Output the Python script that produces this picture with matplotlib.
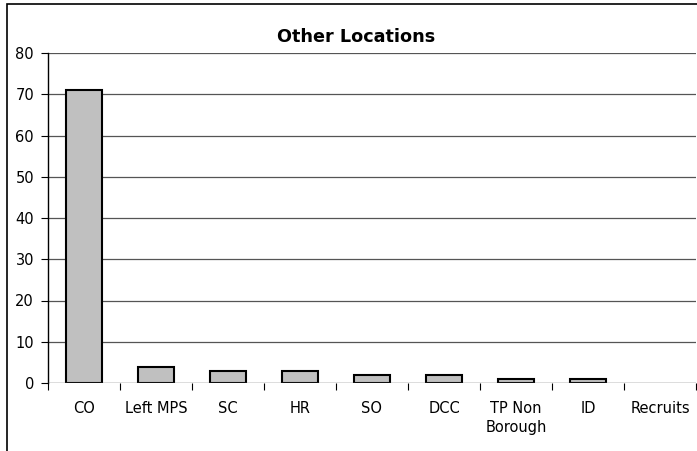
import numpy as np
import matplotlib.pyplot as plt
from matplotlib.patches import Rectangle

# values
locations = ["CO", "Left MPS", "SC", "HR", "SO", "DCC", "TP Non\nBorough", "ID", "Recruits"]
counts = [71, 4, 3, 3, 2, 2, 1, 1, 0]
y_ticks = [0, 10, 20, 30, 40, 50, 60, 70, 80]

plt.rcParams['font.family'] = ['DejaVu Sans']

fig = plt.figure(figsize=(6.97, 4.51), dpi=100)
ax = fig.add_axes([48/697, 1-383/451, 648/697, 330/451])

# outer chart border (right/bottom edges fall outside the picture)
fig.patches.append(Rectangle((7/697, -0.1), 1.2, 1-4/451+0.1, transform=fig.transFigure,
                             fill=False, edgecolor='black', linewidth=1.2))

x = np.arange(len(locations))
edge_w = [1.5 if c > 0 else 0 for c in counts]
ax.bar(x, counts, width=0.5, color='#C0C0C0', edgecolor='black', linewidth=edge_w, zorder=3)

ax.set_xlim(-0.5, len(locations) - 0.5)
ax.set_ylim(0, 80)
ax.set_yticks(y_ticks)
ax.set_yticklabels([str(v) for v in y_ticks], fontsize=10.5)
for v in y_ticks[1:]:
    ax.axhline(v, color='#555555', linewidth=0.9, zorder=1)
ax.axhline(0, color='#555555', linewidth=1.0, zorder=4)

# category labels centred, tick marks at category boundaries
ax.set_xticks(np.arange(-0.5, len(locations)), minor=False)
ax.set_xticklabels([])
ax.set_xticks(x, minor=True)
ax.set_xticklabels(locations, minor=True, fontsize=10.5, linespacing=1.3)
ax.tick_params(axis='x', which='minor', length=0, pad=13)
ax.tick_params(axis='x', which='major', length=5, direction='out', color='black')
ax.tick_params(axis='y', length=5, direction='out', pad=5)

for s in ['top', 'right', 'bottom']:
    ax.spines[s].set_visible(False)
ax.spines['left'].set_linewidth(1.0)

fig.text(356/697, 1-37/451, "Other Locations", ha='center', va='center',
         fontsize=12.7, fontweight='bold')

fig.savefig("out.png", dpi=100)
